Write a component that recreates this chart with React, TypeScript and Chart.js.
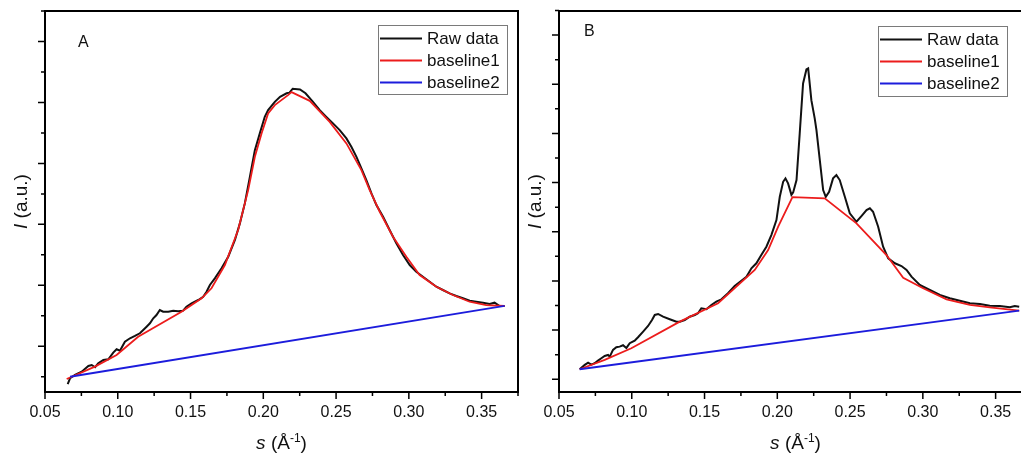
import { useEffect, useRef } from "react";
import { Chart, registerables } from "chart.js";

Chart.register(...registerables);

const FONT = '"Liberation Sans", Arial, Helvetica, sans-serif';

// ---------- axis ticks / labels ----------
const xMajorTicks = [0.05, 0.1, 0.15, 0.2, 0.25, 0.3, 0.35];
const xMinorTicks = [0.075, 0.125, 0.175, 0.225, 0.275, 0.325, 0.375];
const xTickLabels = ["0.05", "0.10", "0.15", "0.20", "0.25", "0.30", "0.35"];

const yMajorA = [1, 2, 3, 4, 5, 6];
const yMinorA = [0.5, 1.5, 2.5, 3.5, 4.5, 5.5, 6.5];
const yMajorB = [1, 2, 3, 4, 5, 6, 7, 8];
const yMinorB = [1.5, 2.5, 3.5, 4.5, 5.5, 6.5, 7.5, 8.5];

const legendLabels = ["Raw data", "baseline1", "baseline2"];
const panelLetters = ["A", "B"];

// ---------- Panel A data ----------
const rawA_s = [
  0.0656, 0.0672, 0.0706, 0.0752, 0.0798, 0.0821, 0.0844, 0.0866, 0.0901, 0.0935,
  0.0969, 0.0992, 0.1015, 0.1049, 0.1084, 0.1118, 0.1152, 0.1175, 0.1198, 0.1221,
  0.1244, 0.1266, 0.1289, 0.1312, 0.1347, 0.1381, 0.1415, 0.1449, 0.1472, 0.1507,
  0.1553, 0.1587, 0.161, 0.1633, 0.1667, 0.1713, 0.1759, 0.1805, 0.1839, 0.1873,
  0.1908, 0.1942, 0.1976, 0.201, 0.2033, 0.2079, 0.2115, 0.216, 0.218, 0.2202,
  0.2252, 0.229, 0.2337, 0.2388, 0.2433, 0.2479, 0.2525, 0.2571, 0.2605, 0.264,
  0.2674, 0.2708, 0.2743, 0.2777, 0.2823, 0.2868, 0.2914, 0.296, 0.3006, 0.3051,
  0.3097, 0.3143, 0.3189, 0.3234, 0.328, 0.3326, 0.3372, 0.3418, 0.3463, 0.3509,
  0.3555, 0.3589, 0.3624, 0.3658,
];
const rawA_I = [
  0.38, 0.475, 0.53, 0.584, 0.677, 0.693, 0.656, 0.721, 0.775, 0.787,
  0.896, 0.951, 0.928, 1.075, 1.131, 1.169, 1.213, 1.267, 1.321, 1.377,
  1.459, 1.513, 1.595, 1.567, 1.567, 1.584, 1.574, 1.584, 1.649, 1.705,
  1.759, 1.813, 1.895, 2.005, 2.115, 2.279, 2.469, 2.743, 3.016, 3.344,
  3.78, 4.218, 4.492, 4.764, 4.874, 5.01, 5.093, 5.15, 5.16, 5.225,
  5.214, 5.15, 5.02, 4.874, 4.764, 4.656, 4.546, 4.41, 4.272, 4.108,
  3.918, 3.726, 3.508, 3.316, 3.125, 2.907, 2.689, 2.497, 2.333, 2.223,
  2.141, 2.059, 1.977, 1.923, 1.869, 1.825, 1.787, 1.748, 1.731, 1.715,
  1.693, 1.715, 1.661, 1.661,
];
const base1A_s = [
  0.0649, 0.0843, 0.0992, 0.114, 0.1438, 0.1576, 0.1644, 0.1736, 0.1827, 0.1896,
  0.1942, 0.1988, 0.2033, 0.2079, 0.217, 0.2194, 0.2319, 0.2456, 0.2571, 0.2674,
  0.2731, 0.28, 0.2891, 0.2983, 0.3074, 0.3189, 0.3303, 0.3417, 0.3532, 0.3658,
];
const base1A_I = [
  0.464, 0.666, 0.857, 1.157, 1.567, 1.787, 1.951, 2.333, 2.907, 3.562,
  4.108, 4.492, 4.82, 4.956, 5.12, 5.17, 5.026, 4.682, 4.328, 3.89,
  3.562, 3.207, 2.797, 2.469, 2.169, 1.977, 1.841, 1.731, 1.675, 1.661,
];
const base2A_s = [0.0672, 0.3658];
const base2A_I = [0.5, 1.661];

// ---------- Panel B data ----------
const rawB_s = [
  0.0642, 0.0677, 0.07, 0.0722, 0.0745, 0.0768, 0.0791, 0.0814, 0.0837, 0.0849,
  0.0871, 0.0894, 0.0917, 0.094, 0.0963, 0.0986, 0.102, 0.1043, 0.1078, 0.1112,
  0.1139, 0.1158, 0.1181, 0.1215, 0.1261, 0.1307, 0.133, 0.1364, 0.1398, 0.1433,
  0.1455, 0.1478, 0.1513, 0.1547, 0.1581, 0.1616, 0.1661, 0.1707, 0.1753, 0.1788,
  0.1822, 0.1856, 0.189, 0.1925, 0.1959, 0.1994, 0.2017, 0.204, 0.2056, 0.2074,
  0.2097, 0.2109, 0.2132, 0.2154, 0.2177, 0.22, 0.2212, 0.2218, 0.2234, 0.2257,
  0.2269, 0.2292, 0.2315, 0.2333, 0.2356, 0.2383, 0.2406, 0.2429, 0.2464, 0.2498,
  0.2544, 0.2578, 0.2613, 0.2636, 0.2658, 0.2693, 0.2727, 0.2762, 0.2808, 0.2853,
  0.2888, 0.2922, 0.2979, 0.3048, 0.3117, 0.3185, 0.3254, 0.3323, 0.3392, 0.346,
  0.3529, 0.3598, 0.3632, 0.3662,
];
const rawB_I = [
  1.203, 1.291, 1.337, 1.297, 1.325, 1.378, 1.427, 1.474, 1.494, 1.459,
  1.596, 1.65, 1.663, 1.691, 1.636, 1.732, 1.785, 1.854, 1.968, 2.083,
  2.205, 2.307, 2.327, 2.272, 2.22, 2.171, 2.171, 2.205, 2.272, 2.307,
  2.341, 2.443, 2.423, 2.51, 2.577, 2.626, 2.748, 2.896, 3.004, 3.085,
  3.256, 3.358, 3.526, 3.695, 3.933, 4.238, 4.711, 5.016, 5.085, 4.984,
  4.75, 4.8, 5.051, 6.0, 7.016, 7.301, 7.321, 7.15, 6.677, 6.305,
  6.067, 5.457, 4.848, 4.711, 4.813, 5.085, 5.152, 5.051, 4.711, 4.374,
  4.203, 4.319, 4.441, 4.476, 4.407, 4.102, 3.695, 3.459, 3.358, 3.303,
  3.222, 3.085, 2.917, 2.815, 2.713, 2.646, 2.598, 2.545, 2.531, 2.496,
  2.49, 2.463, 2.49, 2.476,
];
const base1B_s = [
  0.0642, 0.0814, 0.0997, 0.133, 0.1593, 0.1845, 0.1937, 0.2006, 0.2104, 0.2326,
  0.2544, 0.275, 0.2865, 0.3002, 0.3163, 0.3323, 0.346, 0.3662,
];
const base1B_I = [
  1.203, 1.392, 1.63, 2.171, 2.545, 3.222, 3.628, 4.102, 4.705, 4.679,
  4.171, 3.526, 3.065, 2.85, 2.626, 2.51, 2.463, 2.394,
];
const base2B_s = [0.0642, 0.3662];
const base2B_I = [1.203, 2.394];

// ---------- styles ----------
const LINE_COLORS = ["#111111", "#ec1c1c", "#1c1cdc"];
const LINE_WIDTHS = [2, 1.8, 1.8];

type Panel = {
  letter: string;
  raw: [number[], number[]];
  b1: [number[], number[]];
  b2: [number[], number[]];
  yMin: number;
  yMax: number;
  yMajor: number[];
  yMinor: number[];
  canvasLeft: number;
  canvasWidth: number;
  padLeft: number;
  padRight: number;
  letterPos: [number, number];
  legendBox: [number, number, number, number];
};

const panels: Panel[] = [
  {
    letter: panelLetters[0],
    raw: [rawA_s, rawA_I],
    b1: [base1A_s, base1A_I],
    b2: [base2A_s, base2A_I],
    yMin: 0.25,
    yMax: 6.5,
    yMajor: yMajorA,
    yMinor: yMinorA,
    canvasLeft: 0,
    canvasWidth: 530,
    padLeft: 0,
    padRight: 12,
    letterPos: [33, 36],
    legendBox: [378, 25, 129, 69],
  },
  {
    letter: panelLetters[1],
    raw: [rawB_s, rawB_I],
    b1: [base1B_s, base1B_I],
    b2: [base2B_s, base2B_I],
    yMin: 0.74,
    yMax: 8.49,
    yMajor: yMajorB,
    yMinor: yMinorB,
    canvasLeft: 510,
    canvasWidth: 530,
    padLeft: 4,
    padRight: 8,
    letterPos: [25, 25],
    legendBox: [368, 26, 129, 70],
  },
];

const zip = (xs: number[], ys: number[]) => xs.map((x, i) => ({ x, y: ys[i] }));

type Piece = { t: string; italic?: boolean; sup?: boolean };

function drawRich(ctx: CanvasRenderingContext2D, pieces: Piece[], cx: number, baseline: number, size: number) {
  const supSize = Math.round(size * 0.62);
  const fontOf = (p: Piece) =>
    `${p.italic ? "italic " : ""}${p.sup ? supSize : size}px ${FONT}`;
  let total = 0;
  const widths = pieces.map((p) => {
    ctx.font = fontOf(p);
    const w = ctx.measureText(p.t).width;
    total += w;
    return w;
  });
  let x = cx - total / 2;
  ctx.textAlign = "left";
  ctx.textBaseline = "alphabetic";
  pieces.forEach((p, i) => {
    ctx.font = fontOf(p);
    ctx.fillText(p.t, x, p.sup ? baseline - size * 0.38 : baseline);
    x += widths[i];
  });
}

function makePlugin(p: Panel) {
  return {
    id: "decor" + p.letter,
    afterDraw(chart: any) {
      const ctx: CanvasRenderingContext2D = chart.ctx;
      const { left, right, top, bottom } = chart.chartArea;
      const xs = chart.scales.x;
      const ys = chart.scales.y;
      ctx.save();
      ctx.strokeStyle = "#000";
      ctx.fillStyle = "#000";
      ctx.lineWidth = 2;
      ctx.strokeRect(left, top, right - left, bottom - top);
      ctx.lineWidth = 1.5;
      ctx.beginPath();
      xMajorTicks.forEach((v) => {
        const px = xs.getPixelForValue(v);
        ctx.moveTo(px, bottom);
        ctx.lineTo(px, bottom + 7);
      });
      xMinorTicks.forEach((v) => {
        const px = xs.getPixelForValue(v);
        if (px > right + 0.5) return;
        ctx.moveTo(px, bottom);
        ctx.lineTo(px, bottom + 4);
      });
      p.yMajor.forEach((v) => {
        const py = ys.getPixelForValue(v);
        ctx.moveTo(left, py);
        ctx.lineTo(left - 7, py);
      });
      p.yMinor.forEach((v) => {
        const py = ys.getPixelForValue(v);
        if (py < top - 0.5) return;
        ctx.moveTo(left, py);
        ctx.lineTo(left - 4, py);
      });
      ctx.stroke();

      ctx.fillStyle = "#111";
      drawRich(
        ctx,
        [{ t: "s", italic: true }, { t: " (Å" }, { t: "-1", sup: true }, { t: ")" }],
        (left + right) / 2,
        bottom + 57,
        19
      );
      ctx.save();
      ctx.translate(left - 18, (top + bottom) / 2);
      ctx.rotate(-Math.PI / 2);
      drawRich(ctx, [{ t: "I", italic: true }, { t: " (a.u.)" }], 0, 0, 19);
      ctx.restore();

      ctx.font = `16px ${FONT}`;
      ctx.textAlign = "left";
      ctx.textBaseline = "alphabetic";
      ctx.fillText(p.letter, left + p.letterPos[0], top + p.letterPos[1]);

      const [bx, by, bw, bh] = p.legendBox;
      ctx.fillStyle = "#fff";
      ctx.fillRect(bx, by, bw, bh);
      ctx.strokeStyle = "#7a7a7a";
      ctx.lineWidth = 1;
      ctx.strokeRect(bx + 0.5, by + 0.5, bw, bh);
      ctx.font = `17px ${FONT}`;
      ctx.textBaseline = "middle";
      legendLabels.forEach((lab, i) => {
        const ry = by + 13.5 + i * 22;
        ctx.strokeStyle = LINE_COLORS[i];
        ctx.lineWidth = 2;
        ctx.beginPath();
        ctx.moveTo(bx + 2, ry);
        ctx.lineTo(bx + 44, ry);
        ctx.stroke();
        ctx.fillStyle = "#111";
        ctx.fillText(lab, bx + 49, ry + 0.5);
      });
      ctx.restore();
    },
  };
}

function PanelChart({ p }: { p: Panel }) {
  const ref = useRef<HTMLCanvasElement | null>(null);
  useEffect(() => {
    if (!ref.current) return;
    const ds = (d: [number[], number[]], i: number) => ({
      label: legendLabels[i],
      data: zip(d[0], d[1]),
      borderColor: LINE_COLORS[i],
      backgroundColor: LINE_COLORS[i],
      borderWidth: LINE_WIDTHS[i],
      pointRadius: 0,
      tension: 0,
      fill: false,
    });
    const chart = new Chart(ref.current, {
      type: "line",
      data: { datasets: [ds(p.b2, 2), ds(p.b1, 1), ds(p.raw, 0)] },
      options: {
        responsive: false,
        animation: false,
        events: [],
        devicePixelRatio: 1,
        layout: { padding: { left: p.padLeft, right: p.padRight, top: 11, bottom: 0 } },
        plugins: { legend: { display: false }, tooltip: { enabled: false }, title: { display: false } },
        scales: {
          x: {
            type: "linear",
            min: 0.05,
            max: 0.375,
            grid: { display: false, drawTicks: false },
            border: { display: false },
            afterBuildTicks: (s: any) => {
              s.ticks = xMajorTicks.map((v) => ({ value: v }));
            },
            afterFit: (s: any) => {
              s.height = 62;
            },
            ticks: {
              padding: 11,
              color: "#111",
              autoSkip: false,
              maxRotation: 0,
              font: { family: FONT, size: 16 },
              callback: (_v: any, i: number) => xTickLabels[i],
            },
          },
          y: {
            type: "linear",
            min: p.yMin,
            max: p.yMax,
            grid: { display: false, drawTicks: false },
            border: { display: false },
            ticks: { display: false },
            afterFit: (s: any) => {
              s.width = 45;
            },
          },
        },
      } as any,
      plugins: [makePlugin(p)],
    });
    return () => chart.destroy();
  }, [p]);
  return (
    <canvas
      ref={ref}
      width={p.canvasWidth}
      height={454}
      style={{ position: "absolute", left: p.canvasLeft, top: 0, width: p.canvasWidth, height: 454 }}
    />
  );
}

export default function App() {
  return (
    <div
      style={{
        position: "fixed",
        left: 0,
        top: 0,
        width: 1021,
        height: 454,
        overflow: "hidden",
        background: "#fff",
      }}
    >
      {panels.map((p) => (
        <PanelChart key={p.letter} p={p} />
      ))}
    </div>
  );
}
